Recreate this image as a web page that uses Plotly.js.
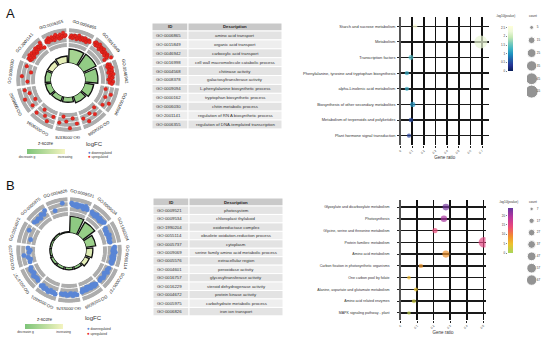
<!DOCTYPE html>
<html><head><meta charset="utf-8">
<script src="https://cdn.plot.ly/plotly-3.0.1.min.js"></script>
<style>html,body{margin:0;padding:0;background:#fff}#chart{width:550px;height:338px}</style>
</head><body><div id="chart"></div>
<script>
// ---------------- Panel A data ----------------
const goIdsA = ['GO:0006865','GO:0015849','GO:0046942','GO:0016998','GO:0004568','GO:0008378','GO:0009094','GO:0000162','GO:0006030','GO:2001141','GO:0006355'];
const goDescA = ['amino acid transport','organic acid transport','carboxylic acid transport','cell wall macromolecule catabolic process','chitinase activity','galactosyltransferase activity','L-phenylalanine biosynthetic process','tryptophan biosynthetic process','chitin metabolic process','regulation of RN A biosynthetic process','regulation of DNA-templated transcription'];
const termSigA = [4.0, 4.1, 3.7, 2.6, 2.0, 1.5, 1.5, 1.7, 1.7, 1.7, 2.0];
const zScoreA = [-1.0, -2.0, -2.0, -1.8, -1.8, -1.6, -1.6, -1.8, -1.8, 2.4, 2.2];
const logFCA = [
  [5.2,6.1,4.8,5.5,6.3,5.9,4.6,5.1,6.7,5.4,4.9,6.0,5.7,5.0,6.4,5.3,4.7,5.8,6.2,5.6],
  [6.8,7.4,5.9,7.1,6.3,7.8,6.6,5.5,7.2,6.9,6.0,7.5,5.8,6.5,7.0,6.2,5.6,7.3,6.7,6.1,4.5,8.2],
  [5.1,6.0,4.4,5.7,6.6,4.9,5.4,6.3,4.2,5.9,6.8,5.2,4.7,6.1,5.5,3.9,5.0,6.4,4.6,5.8],
  [3.0,6.5,4.2,7.5,5.0],
  [2.5,5.5,3.5,7.0,4.5],
  [6.0,3.0,8.0,4.5,2.0,5.5],
  [3.5,7.0,5.0,2.5,6.5],
  [5.5,2.5,7.5,4.0,6.0],
  [4.0,7.0,2.5,5.5],
  [5.0,6.2,4.5,5.8,6.8,4.1,5.3,6.5,4.8,5.6,6.0,4.3,5.1,6.6,5.5,4.9,6.3,5.7,4.6,5.9,7.2,3.8],
  [5.6,6.4,5.0,7.0,6.1,5.3,6.8,5.8,4.8,6.6,7.3,5.5,6.2,4.9,6.9,5.2,6.0,7.6,5.7,6.3]
];
const pathwaysA = ['Starch and sucrose metabolism','Metabolism','Transcription factors','Phenylalanine, tyrosine and tryptophan biosynthesis','alpha-Linolenic acid metabolism','Biosynthesis of other secondary metabolites','Metabolism of terpenoids and polyketides','Plant hormone signal transduction'];
const geneRatioA = [0.125, 0.69, 0.09, 0.055, 0.055, 0.105, 0.09, 0.073];
const countA = [6, 55, 8, 6, 6, 9, 7, 6];
const log10pA = [2.55, 2.25, 1.35, 1.2, 1.2, 1.0, 0.45, 0.4];
const ratioTicksA = [0, 0.1, 0.2, 0.3, 0.4, 0.5, 0.6, 0.7];
const pTicksA = [0, 0.5, 1, 1.5, 2, 2.5];
const countLegendA = [5, 15, 25, 35, 45, 55];

// ---------------- Panel B data ----------------
const goIdsB = ['GO:0009521','GO:0009534','GO:1990204','GO:0055114','GO:0005737','GO:0009069','GO:0005576','GO:0004601','GO:0016757','GO:0016229','GO:0004672','GO:0005975','GO:0006826'];
const goDescB = ['photosystem','chloroplast thylakoid','oxidoreductase complex','obsolete oxidation-reduction process','cytoplasm','serine family amino acid metabolic process','extracellular region','peroxidase activity','glycosyltransferase activity','steroid dehydrogenase activity','protein kinase activity','carbohydrate metabolic process','iron ion transport'];
const termSigB = [4.7, 4.2, 2.8, 1.9, 1.4, 0.8, 0.8, 0.8, 0.8, 0.6, 0.6, 0.6, 0.4];
const zScoreB = [-2.2, -1.8, -1.5, 1.8, 2.2, -2, -2, -2, -2, -2, -2, -2, -2];
const logFCB = [
  [-3.2,-4.1,-3.8,-4.5,-3.5,-4.8,-3.9,-4.2,-3.6,-4.4,-5.0,-3.3,-4.0,-4.6],
  [-4.5,-5.2,-4.8,-5.6,-4.2,-5.0,-5.4,-4.6,-5.8,-4.9,-5.1,-4.4],
  [-5.5,-6.2,-5.8,-6.5,-5.2,-6.0,-5.6,-6.3,-5.9],
  [-3.8,-4.5,-4.1,-4.9,-3.5,-4.3,-4.7,-4.0,-5.2,-3.9,-4.6,-4.2,-5.0,-4.4],
  [-4.8,-5.3,-4.4,-5.8,-5.0,-4.6,-5.5,-5.1],
  [-5.0,-5.6,-4.6,-6.0,-5.3,-4.8,-5.8,-5.2,-6.3,-4.9,-5.5,-5.1,-5.9,-4.7],
  [-4.0,-4.6,-3.7,-5.0,-4.3,-3.9,-4.8,-4.2,-4.5],
  [-3.5,-4.2,-3.9,-4.6,-3.3,-4.0,-4.4,-3.7,-4.8,-4.1],
  [-5.0,-5.6,-5.3,-4.7,-6.0,-5.4,-5.1,-5.8],
  [-6.5,-7.2,-6.0,-4.0,-6.8,-7.5,-6.3],
  [-7.0,-4.5],
  [-4.5,-5.2,-4.8,-5.6,-4.2,-5.0,-3.5],
  [-6.0,-3.0]
];
const pathwaysB = ['Glyoxylate and dicarboxylate metabolism','Photosynthesis','Glycine, serine and threonine metabolism','Protein families: metabolism','Amino acid metabolism','Carbon fixation in photosynthetic organisms','One carbon pool by folate','Alanine, aspartate and glutamate metabolism','Amino acid related enzymes','MAPK signaling pathway - plant'];
const geneRatioB = [0.274, 0.262, 0.208, 0.503, 0.274, 0.123, 0.051, 0.093, 0.081, 0.051];
const countB = [27, 25, 17, 67, 30, 12, 8, 10, 10, 8];
const log10pB = [23, 20, 14, 15, 8.5, 8, 5.5, 4.5, 2.5, 1.5];
const ratioTicksB = [0, 0.1, 0.2, 0.3, 0.4, 0.5];
const pTicksB = [0, 5, 10, 15, 20];
const countLegendB = [7, 17, 27, 37, 47, 57, 67];

// ---------------- helpers / styles ----------------
const W = 550, H = 338;
const fx = p => p / W, fy = p => 1 - p / H;
const FONT = 'Liberation Sans, Arial, sans-serif';
const zScale = [[0,'#7ec479'],[1,'#f4f4c0']];
const ylgnbu = [[0,'rgb(8,29,88)'],[0.125,'rgb(37,52,148)'],[0.25,'rgb(34,94,168)'],[0.375,'rgb(29,145,192)'],[0.5,'rgb(65,182,196)'],[0.625,'rgb(127,205,187)'],[0.75,'rgb(199,233,180)'],[0.875,'rgb(237,248,217)'],[1,'rgb(255,255,217)']];
const plasmaLike = [[0,'#a8d65a'],[0.2,'#eec22c'],[0.38,'#f28c30'],[0.58,'#ec4a78'],[0.8,'#b8359f'],[1,'#64389e']];

const traces = [];
const annotations = [];
const shapes = [];
const layout = {
  width: W, height: H, margin: {l:0, r:0, t:0, b:0},
  paper_bgcolor: '#fff', plot_bgcolor: 'rgba(0,0,0,0)',
  showlegend: false, font: {family: FONT, color: '#222'},
  annotations: annotations, shapes: shapes
};
function note(x, y, text, size, opt) {
  annotations.push(Object.assign({xref:'paper', yref:'paper', x: fx(x), y: fy(y), text: text, showarrow: false,
    xanchor: 'center', yanchor: 'middle', font: {size: size, color: '#222', family: FONT}}, opt || {}));
}

function buildCircle(c) {
  const N = c.ids.length, step = 360 / N;
  const centers = c.ids.map((_, i) => (i + 0.5) * step);
  const dom = {x: [fx(c.cx - c.R), fx(c.cx + c.R)], y: [fy(c.cy + c.R), fy(c.cy - c.R)]};
  const base = () => ({domain: dom, bgcolor: 'rgba(0,0,0,0)',
    angularaxis: {visible: false, rotation: 90, direction: 'clockwise'}});
  layout[c.pIn] = Object.assign(base(), {hole: c.rIn / c.R, barmode: 'overlay', radialaxis: {visible: false, range: [0, 10]}});
  layout[c.pDot] = Object.assign(base(), {hole: c.rRing / c.R, radialaxis: {visible: false, range: c.fcRange}});
  // inner z-score bars (height = term significance, colour = z-score)
  traces.push({
    type: 'barpolar', subplot: c.pIn, theta: centers, r: c.sig, width: step - 4,
    marker: {color: c.z, colorscale: zScale, cmin: -3, cmax: 3, line: {color: '#111', width: 1.3},
      showscale: true,
      colorbar: {orientation: 'h', x: fx(c.cbX), xanchor: 'center', y: fy(c.cbTop), yanchor: 'top',
        len: 38, lenmode: 'pixels', thickness: 4.5, thicknessmode: 'pixels', xpad: 0, ypad: 0,
        outlinewidth: 0, ticks: '', tickvals: [-3, 3], ticktext: ['decreasin g', 'increasing'],
        tickfont: {size: 3.2, color: '#333'}}},
    hoverinfo: 'skip'
  });
  note(c.cbX, c.cbTop - 5, 'z-score', 4.6, {font: {size: 4.6, color: '#333', family: FONT}});
  // grey logFC stripes: thick arcs along each sector
  c.stripes.forEach(rs => {
    const th = [], rr = [];
    centers.forEach(t => {
      for (let a = t - step / 2 + 1.2; a <= t + step / 2 - 1.2 + 1e-6; a += 0.8) { th.push(a); rr.push(rs); }
      th.push(null); rr.push(null);
    });
    traces.push({type: 'scatterpolar', subplot: c.pDot, mode: 'lines', theta: th, r: rr, connectgaps: false,
      line: {color: '#adadad', width: c.stripeW}, hoverinfo: 'skip'});
  });
  // genes
  const th = [], rr = [];
  c.fc.forEach((arr, i) => {
    const start = i * step + 2.5, span = step - 5;
    arr.forEach((v, j) => { th.push(start + (j + 0.5) / arr.length * span); rr.push(v); });
  });
  traces.push({type: 'scatterpolar', subplot: c.pDot, mode: 'markers', theta: th, r: rr,
    marker: {size: c.dotSize, color: c.dotColor, line: {color: c.dotLine, width: 0.3}}, hoverinfo: 'skip'});
  // GO labels around the circle
  centers.forEach((t, i) => {
    const rad = c.R + 5.5, a = t * Math.PI / 180;
    note(c.cx + rad * Math.sin(a), c.cy - rad * Math.cos(a), c.ids[i], 4.3, {textangle: t > 180 ? t - 360 : t});
  });
}

buildCircle({ids: goIdsA, sig: termSigA, z: zScoreA, fc: logFCA, cx: 68, cy: 80, R: 52, rIn: 17, rRing: 33,
  fcRange: [0, 10], stripes: [1.0, 3.6, 6.2, 8.8], stripeW: 4.1, pIn: 'polar', pDot: 'polar2',
  dotSize: 3.7, dotColor: '#e8261e', dotLine: '#a81410', cbX: 46, cbTop: 149});
buildCircle({ids: goIdsB, sig: termSigB, z: zScoreB, fc: logFCB, cx: 69, cy: 250, R: 53, rIn: 17, rRing: 34,
  fcRange: [-10, 0], stripes: [-9.0, -6.4, -3.8, -1.2], stripeW: 4.1, pIn: 'polar3', pDot: 'polar4',
  dotSize: 4.6, dotColor: '#5a86d6', dotLine: '#5a86d6', cbX: 44.5, cbTop: 324});

// logFC legends
function logfcLegend(x, yTitle, y1, y2) {
  note(x - 2, yTitle, 'logFC', 6, {xanchor: 'left', font: {size: 6, color: '#333', family: FONT}});
  note(x, y1, '<span style="color:#5a86d6;font-size:4.4px">●</span> downregulated', 3.1, {xanchor: 'left', font: {size: 3.1, color: '#333', family: FONT}});
  note(x, y2, '<span style="color:#e8261e;font-size:4.4px">●</span> upregulated', 3.1, {xanchor: 'left', font: {size: 3.1, color: '#333', family: FONT}});
}
logfcLegend(85.5, 143.5, 152.6, 156.9);
logfcLegend(84.5, 318, 328, 333);

// panel letters
note(4, 14, 'A', 13, {xanchor: 'left', font: {size: 13, color: '#111', family: FONT}});
note(4, 185, 'B', 13, {xanchor: 'left', font: {size: 13, color: '#111', family: FONT}});

// ---------------- tables (cells as shapes, text as annotations) ----------------
function table(ids, desc, x0, xSplit, x1, yTop, hHead, hRow) {
  const cell = (a, b, c, d, col) => shapes.push({type: 'rect', xref: 'paper', yref: 'paper',
    x0: fx(a), x1: fx(b), y0: fy(d), y1: fy(c), fillcolor: col, line: {color: '#fff', width: 1}, layer: 'below'});
  cell(x0, xSplit, yTop, yTop + hHead, '#c9c9c9');
  cell(xSplit, x1, yTop, yTop + hHead, '#c9c9c9');
  note((x0 + xSplit) / 2, yTop + hHead / 2, '<b>ID</b>', 4.3);
  note((xSplit + x1) / 2, yTop + hHead / 2, '<b>Description</b>', 4.3);
  ids.forEach((id, i) => {
    const t = yTop + hHead + i * hRow, col = i % 2 === 0 ? '#e3e3e3' : '#eeeeee';
    cell(x0, xSplit, t, t + hRow, col);
    cell(xSplit, x1, t, t + hRow, col);
    note(x0 + 2, t + hRow / 2, id, 4.3, {xanchor: 'left', font: {size: 4.3, color: '#333', family: FONT}});
    note((xSplit + x1) / 2, t + hRow / 2, desc[i], 4.3, {font: {size: 4.3, color: '#333', family: FONT}});
  });
}
table(goIdsA, goDescA, 152, 188, 282, 23, 8, 8.9);
table(goIdsB, goDescB, 153, 189, 283, 198, 8, 8.45);

// ---------------- dot plots ----------------
function dotPlot(o) {
  traces.push({type: 'scatter', mode: 'markers', x: o.ratio, y: o.paths, xaxis: o.xa, yaxis: o.ya,
    marker: {size: o.count, sizemode: 'area', sizeref: o.sizeref, sizemin: 1.6, color: o.p, colorscale: o.cs,
      cmin: 0, cmax: o.cmax, line: {width: 0}, showscale: true,
      colorbar: {x: fx(508), xanchor: 'left', y: fy(o.cbTop), yanchor: 'top', len: o.cbBot - o.cbTop, lenmode: 'pixels',
        thickness: 5, thicknessmode: 'pixels', xpad: 0, ypad: 0, outlinewidth: 0, showticklabels: false, ticks: ''}},
    hoverinfo: 'skip'});
  const xk = o.xa.replace('x', 'xaxis'), yk = o.ya.replace('y', 'yaxis');
  layout[xk] = {domain: [fx(400.5), fx(o.xRight)], range: o.xRange, anchor: o.ya, tickvals: o.ticks,
    tickangle: -45, tickfont: {size: 3, color: '#333'}, ticks: 'outside', ticklen: 2, tickcolor: '#222', tickwidth: 1,
    showgrid: true, gridcolor: '#111', gridwidth: 1.6, zeroline: false, showline: false,
    title: {text: 'Gene ratio', font: {size: 4.5, color: '#333'}, standoff: 2}};
  layout[yk] = {domain: [fy(o.yBot), fy(o.yTop)], type: 'category', range: [o.paths.length - 0.4, -0.6], autorange: false,
    anchor: o.xa, showgrid: true, gridcolor: '#1a1a1a', gridwidth: 1.6, ticks: 'outside', ticklen: 1.5, tickcolor: '#222',
    tickfont: {size: o.yFont, color: '#333'}, ticklabelstandoff: o.standoff, showline: true, linecolor: '#555', linewidth: 1.8, zeroline: false};
  // colorbar tick labels (left side) on an empty axis aligned with the bar
  traces.push({type: 'scatter', x: [], y: [], xaxis: o.cxa, yaxis: o.cya, hoverinfo: 'skip'});
  layout[o.cxa.replace('x', 'xaxis')] = {domain: [fx(508), fx(513)], visible: false, anchor: o.cya, range: [0, 1]};
  layout[o.cya.replace('y', 'yaxis')] = {domain: [fy(o.cbBot), fy(o.cbTop)], range: [0, o.cmax], anchor: o.cxa, side: 'left',
    tickvals: o.pTicks, ticks: 'outside', ticklen: 1.2, tickcolor: '#333', tickwidth: 0.6, tickfont: {size: 3, color: '#333'},
    showgrid: false, zeroline: false, showline: false};
  note(o.titleX, o.titleY, '-log10(pvalue)', 3, {font: {size: 3, color: '#333', family: FONT}});
  note(533, o.titleY, 'count', 3.2, {font: {size: 3.2, color: '#333', family: FONT}});
  // count legend
  const cats = o.legend.map(String);
  traces.push({type: 'scatter', mode: 'markers', x: o.legend.map(() => 0), y: cats, xaxis: o.lxa, yaxis: o.lya,
    marker: {size: o.legend, sizemode: 'area', sizeref: o.sizeref, sizemin: 1.6, color: '#666'}, hoverinfo: 'skip'});
  traces.push({type: 'scatter', mode: 'text', x: o.legend.map(() => 1), y: cats, text: cats, xaxis: o.lxa, yaxis: o.lya,
    textfont: {size: 3, color: '#333'}, textposition: 'middle right', hoverinfo: 'skip'});
  layout[o.lxa.replace('x', 'xaxis')] = {domain: [fx(527), fx(547)], range: [-0.9, 3], visible: false, anchor: o.lya};
  layout[o.lya.replace('y', 'yaxis')] = {domain: [fy(o.legBot), fy(o.legTop)], type: 'category', range: [o.legend.length - 0.5, -0.5],
    autorange: false, visible: false, anchor: o.lxa};
}
dotPlot({ratio: geneRatioA, paths: pathwaysA, count: countA, p: log10pA, xa: 'x', ya: 'y', cs: ylgnbu, cmax: 2.6,
  sizeref: 2 * 55 / 169, xRight: 489, xRange: [0, 0.76], ticks: ratioTicksA, yTop: 17, yBot: 145, yFont: 4, standoff: 1,
  cbTop: 26, cbBot: 71, pTicks: pTicksA, cxa: 'x3', cya: 'y3', titleX: 505, titleY: 16,
  legend: countLegendA, lxa: 'x4', lya: 'y4', legTop: 21, legBot: 98});
dotPlot({ratio: geneRatioB, paths: pathwaysB, count: countB, p: log10pB, xa: 'x2', ya: 'y2', cs: plasmaLike, cmax: 24,
  sizeref: 2 * 67 / 110, xRight: 485.5, xRange: [0, 0.513], ticks: ratioTicksB, yTop: 200, yBot: 320, yFont: 3.6, standoff: 7,
  cbTop: 208, cbBot: 253, pTicks: pTicksB, cxa: 'x5', cya: 'y5', titleX: 508, titleY: 202,
  legend: countLegendB, lxa: 'x6', lya: 'y6', legTop: 203, legBot: 286});

Plotly.newPlot('chart', traces, layout, {staticPlot: true, displayModeBar: false});
</script>
</body></html>
